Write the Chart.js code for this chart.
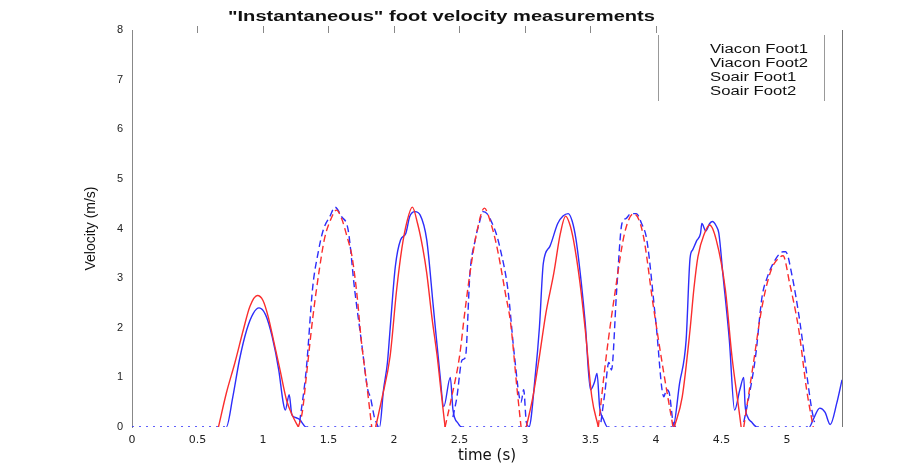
<!DOCTYPE html>
<html><head><meta charset="utf-8">
<script src="https://cdn.jsdelivr.net/npm/chart.js@4.4.1/dist/chart.umd.min.js"></script>
<style>html,body{margin:0;padding:0;background:#fff}#wrap{width:918px;height:466px;position:relative}</style>
</head><body><div id="wrap"><canvas id="c" width="918" height="466"></canvas></div>
<script>
const chartTitle = '"Instantaneous" foot velocity measurements';
const xAxisTitle = 'time (s)';
const yAxisTitle = 'Velocity (m/s)';
const seriesNames = ['Viacon Foot1', 'Viacon Foot2', 'Soair Foot1', 'Soair Foot2'];
const xTickValues = [0, 0.5, 1, 1.5, 2, 2.5, 3, 3.5, 4, 4.5, 5];
const yTickValues = [0, 1, 2, 3, 4, 5, 6, 7, 8];

// Vicon Foot1 (blue solid)
const viconFoot1Time = [0, 0.72, 0.77, 0.82, 0.876, 0.926, 0.97, 1.02, 1.07, 1.12, 1.155, 1.17, 1.2, 1.22, 1.24, 1.28, 1.33,
  1.89, 1.92, 1.95, 1.97, 2.01, 2.05, 2.09, 2.12, 2.16, 2.20, 2.25, 2.30, 2.35, 2.38, 2.43, 2.45, 2.49, 2.52,
  3.03, 3.08, 3.11, 3.14, 3.19, 3.25, 3.29, 3.33, 3.36, 3.39, 3.43, 3.46, 3.50, 3.53, 3.55, 3.57, 3.60, 3.63,
  4.13, 4.18, 4.23, 4.26, 4.28, 4.31, 4.34, 4.35, 4.38, 4.41, 4.43, 4.46, 4.48, 4.51, 4.56, 4.60, 4.64, 4.67, 4.68, 4.70, 4.73, 4.77,
  5.17, 5.20, 5.25, 5.29, 5.33, 5.38, 5.42];
const viconFoot1Vel = [0, 0, 0.61, 1.35, 1.96, 2.29, 2.40, 2.26, 1.82, 1.15, 0.48, 0.34, 0.65, 0.25, 0.2, 0.15, 0,
  0, 0.75, 1.3, 1.96, 3.23, 3.77, 3.9, 4.24, 4.34, 4.27, 3.77, 2.43, 1.08, 0.41, 1.0, 0.35, 0.07, 0,
  0, 1.08, 2.0, 3.3, 3.64, 4.1, 4.25, 4.3, 4.15, 3.77, 2.9, 2.09, 0.75, 0.9, 1.08, 0.4, 0.15, 0,
  0, 0.88, 1.75, 3.4, 3.57, 3.75, 3.9, 4.1, 3.95, 4.1, 4.14, 4.05, 3.9, 3.1, 1.75, 0.34, 0.75, 1.0, 0.45, 0.2, 0.1, 0,
  0, 0.15, 0.38, 0.3, 0.05, 0.48, 0.95];

// Vicon Foot2 (blue dashed)
const viconFoot2Time = [1.28, 1.33, 1.38, 1.42, 1.46, 1.51, 1.55, 1.60, 1.65, 1.70, 1.75, 1.80, 1.82, 1.85, 1.88, 2.0,
  2.45, 2.48, 2.52, 2.545, 2.58, 2.62, 2.65, 2.68, 2.71, 2.75, 2.78, 2.81, 2.87, 2.92, 2.97, 2.99, 3.01, 3.03, 3.3,
  3.58, 3.61, 3.64, 3.66, 3.70, 3.74, 3.77, 3.81, 3.85, 3.89, 3.93, 4.00, 4.06, 4.08, 4.10, 4.13, 4.15, 4.4,
  4.67, 4.70, 4.76, 4.81, 4.85, 4.91, 4.97, 4.99, 5.04, 5.10, 5.15, 5.19, 5.21];
const viconFoot2Vel = [0.1, 1.15, 2.83, 3.5, 3.97, 4.24, 4.43, 4.24, 3.97, 2.76, 1.75, 0.75, 0.6, 0.2, 0, null,
  0.2, 0.6, 1.35, 1.4, 3.1, 3.77, 4.1, 4.34, 4.3, 4.1, 3.9, 3.6, 2.76, 1.42, 0.5, 0.75, 0.1, 0, null,
  0.1, 0.7, 1.3, 1.15, 2.76, 4.1, 4.2, 4.3, 4.3, 4.1, 3.77, 2.09, 0.61, 0.75, 0.7, 0.1, 0, null,
  0.1, 0.48, 1.42, 2.63, 3.02, 3.37, 3.53, 3.53, 3.03, 2.09, 1.08, 0.34, 0.1];

// Sgair Foot1 (red solid)
const sgairFoot1Time = [0.66, 0.72, 0.786, 0.85, 0.90, 0.957, 1.00, 1.04, 1.08, 1.13, 1.18, 1.23, 1.27, 1.5,
  1.86, 1.91, 1.97, 2.02, 2.06, 2.10, 2.14, 2.18, 2.22, 2.25, 2.29, 2.33, 2.36, 2.39, 2.7,
  3.01, 3.06, 3.11, 3.16, 3.22, 3.27, 3.31, 3.34, 3.37, 3.42, 3.46, 3.51, 3.56, 3.8,
  4.14, 4.20, 4.26, 4.29, 4.32, 4.37, 4.41, 4.46, 4.53, 4.58, 4.63, 4.65];
const sgairFoot1Vel = [0, 0.68, 1.3, 1.96, 2.43, 2.65, 2.55, 2.22, 1.75, 1.15, 0.54, 0.2, 0, null,
  0, 0.6, 1.42, 2.76, 3.6, 4.15, 4.43, 4.1, 3.6, 3.1, 2.2, 1.42, 0.7, 0, null,
  0, 0.6, 1.42, 2.3, 3.1, 3.9, 4.25, 4.1, 3.77, 2.9, 1.96, 0.61, 0, null,
  0, 0.6, 1.96, 2.8, 3.43, 3.9, 4.07, 3.77, 2.76, 1.42, 0.41, 0];

// Sgair Foot2 (red dashed)
const sgairFoot2Time = [1.27, 1.30, 1.33, 1.38, 1.43, 1.47, 1.52, 1.56, 1.60, 1.64, 1.68, 1.72, 1.75, 1.79, 1.83, 2.1,
  2.39, 2.44, 2.50, 2.54, 2.58, 2.63, 2.69, 2.74, 2.78, 2.81, 2.85, 2.89, 2.94, 2.97, 3.2,
  3.56, 3.62, 3.69, 3.76, 3.83, 3.90, 3.98, 4.06, 4.13, 4.4,
  4.67, 4.74, 4.81, 4.88, 4.95, 4.97, 5.02, 5.09, 5.15, 5.20];
const sgairFoot2Vel = [0, 0.3, 1.0, 2.2, 3.17, 3.8, 4.2, 4.37, 4.2, 3.85, 3.43, 2.6, 1.75, 0.9, 0, null,
  0, 0.6, 1.42, 2.3, 3.1, 3.9, 4.41, 4.1, 3.7, 3.3, 2.7, 2.1, 0.75, 0, null,
  0, 1.42, 2.76, 3.9, 4.3, 3.9, 2.43, 1.08, 0, null,
  0, 1.22, 2.43, 3.17, 3.43, 3.45, 2.9, 1.96, 0.75, 0];

const BLUE = 'rgb(45,45,250)';
const RED = 'rgb(250,45,45)';
const FONT = '"Liberation Sans", Arial, Helvetica, sans-serif';
const WIDE = '"DejaVu Sans", Verdana, sans-serif';

function mk(label, t, v, color, dash, order) {
  return {
    label, order,
    data: t.map((x, i) => ({x, y: v[i]})),
    borderColor: color, backgroundColor: color,
    borderWidth: 1.4, borderDash: dash,
    pointRadius: 0, fill: false, spanGaps: false,
    cubicInterpolationMode: 'monotone',
    segment: {
      borderDash: ctx => (ctx.p0.parsed.y === 0 && ctx.p1.parsed.y === 0) ? [2, 5] : dash
    }
  };
}

const decor = {
  id: 'decor',
  afterDraw(chart) {
    const ctx = chart.ctx, a = chart.chartArea, xs = chart.scales.x;
    ctx.save();
    ctx.strokeStyle = '#777'; ctx.lineWidth = 1;
    ctx.beginPath(); ctx.moveTo(a.right + 0.5, a.top); ctx.lineTo(a.right + 0.5, a.bottom); ctx.stroke();
    ctx.strokeStyle = '#888';
    for (const v of xTickValues) {
      if (v <= 0 || v > 4.01) continue;
      const px = Math.round(xs.getPixelForValue(v)) + 0.5;
      ctx.beginPath(); ctx.moveTo(px, a.top - 4); ctx.lineTo(px, a.top + 3); ctx.stroke();
    }
    ctx.strokeStyle = '#999';
    ctx.beginPath(); ctx.moveTo(658.5, 35); ctx.lineTo(658.5, 101); ctx.stroke();
    ctx.beginPath(); ctx.moveTo(824.5, 35); ctx.lineTo(824.5, 101); ctx.stroke();
    ctx.fillStyle = '#111';
    ctx.textBaseline = 'middle'; ctx.textAlign = 'left';
    ctx.font = 'bold 15px ' + FONT;
    let w = ctx.measureText(chartTitle).width;
    ctx.save(); ctx.translate(228, 17); ctx.scale(427 / w, 1); ctx.fillText(chartTitle, 0, 0); ctx.restore();
    ctx.font = '12px ' + FONT;
    const rows = [50, 64, 78, 92];
    const w0 = ctx.measureText(seriesNames[0]).width;
    const sx = 98 / w0;
    seriesNames.forEach((s, i) => {
      ctx.save(); ctx.translate(710, rows[i]); ctx.scale(sx, 1); ctx.fillText(s, 0, 0); ctx.restore();
    });
    ctx.restore();
  }
};

new Chart(document.getElementById('c'), {
  type: 'line',
  data: {
    datasets: [
      mk(seriesNames[0], viconFoot1Time, viconFoot1Vel, BLUE, [], 3),
      mk(seriesNames[1], viconFoot2Time, viconFoot2Vel, BLUE, [7, 4], 2),
      mk(seriesNames[2], sgairFoot1Time, sgairFoot1Vel, RED, [], 1),
      mk(seriesNames[3], sgairFoot2Time, sgairFoot2Vel, RED, [7, 4], 0)
    ]
  },
  options: {
    responsive: false, animation: false, devicePixelRatio: 1,
    layout: {padding: {top: 30, right: 76, left: 0, bottom: 0}},
    plugins: {legend: {display: false}, title: {display: false}, tooltip: {enabled: false}},
    scales: {
      x: {
        type: 'linear', min: 0, max: 5.42,
        afterBuildTicks: s => { s.ticks = xTickValues.map(v => ({value: v})); },
        afterFit: s => { s.height = 39; },
        grid: {display: false, drawTicks: false},
        border: {display: false},
        ticks: {padding: 7, color: '#222', font: {family: WIDE, size: 11}, maxRotation: 0,
                callback: v => String(v)},
        title: {display: true, text: xAxisTitle, color: '#111', font: {family: WIDE, size: 15}, padding: {top: 0, bottom: 1}}
      },
      y: {
        type: 'linear', min: 0, max: 8,
        afterBuildTicks: s => { s.ticks = yTickValues.map(v => ({value: v})); },
        afterFit: s => { s.width = 132; },
        grid: {display: false, drawTicks: false},
        border: {display: true, color: '#888', width: 1},
        ticks: {padding: 9, color: '#222', font: {family: FONT, size: 11}},
        title: {display: true, text: yAxisTitle, color: '#111', font: {family: FONT, size: 14}, padding: {top: 83, bottom: 0}}
      }
    }
  },
  plugins: [decor]
});
</script></body></html>
